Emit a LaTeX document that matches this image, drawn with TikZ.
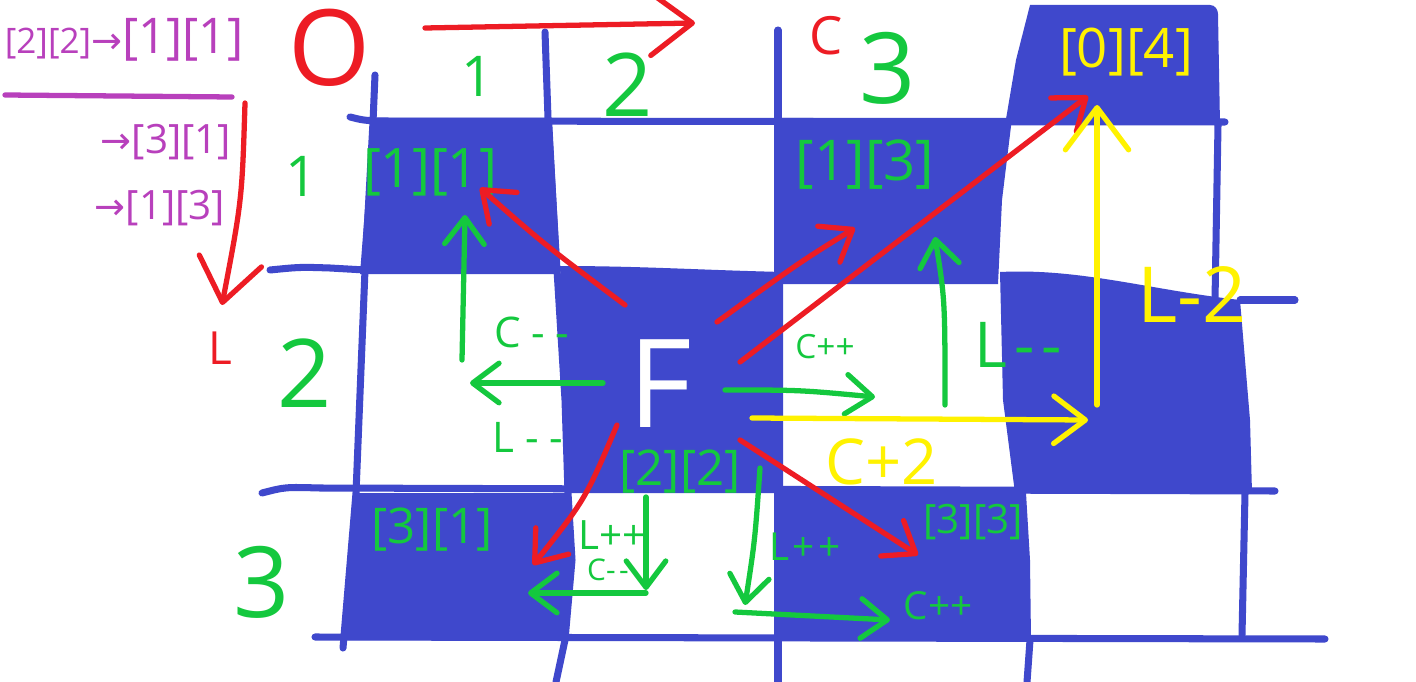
\documentclass[tikz,border=0pt]{standalone}
\usepackage{fontspec}
\setmainfont{Open Sans}
\newfontfamily\arrfont{DejaVu Sans}
\usetikzlibrary{arrows.meta}
\definecolor{bl}{HTML}{3F48CC}
\definecolor{rd}{HTML}{ED1C24}
\definecolor{gr}{HTML}{14C83E}
\definecolor{yl}{HTML}{FFF200}
\definecolor{pu}{HTML}{B840BC}
\newcommand\fsz[1]{\fontsize{#1pt}{#1pt}\selectfont}
\tikzset{
  gridline/.style={draw=bl, line width=4pt, line cap=round, line join=round},
  cellfill/.style={fill=bl, draw=none},
  pen/.style={line width=3pt, line cap=round, line join=round},
  barb/.style={-{Straight Barb[length=#1pt, width=1.5*#1pt, round]}},
  redarrow/.style={pen, draw=rd, barb=16},
  grarrow/.style={pen, draw=gr, barb=15},
  ylarrow/.style={pen, draw=yl, barb=18},
  lbl/.style={inner sep=0pt, anchor=center},
}
\begin{document}
\begin{tikzpicture}[x=0.02cm, y=-0.02cm]
\useasboundingbox (0,0) rectangle (1416,682);
\fill[white] (0,0) rectangle (1416,682);
% ---------- blue cells ----------
\path[cellfill] (372,118) -- (552,118) -- (560,268) -- (560,274) -- (360,274) -- cycle;
\path[cellfill] (778,118) -- (1012,118) -- (1002,200) -- (998,284) -- (778,284) -- cycle;
\path[cellfill] (1030,5) -- (1210,5) to[out=0,in=90] (1218,14) -- (1220,125) -- (1005,125) -- (1016,60) -- cycle;
\path[cellfill] (560,266) .. controls (640,266) and (700,270) .. (783,272) -- (783,493) -- (568,493) -- (566,400) -- cycle;
\path[cellfill] (1000,272) .. controls (1080,268) and (1150,290) .. (1240,300) -- (1250,420) -- (1252,493) -- (1015,493) -- (1003,400) -- cycle;
\path[cellfill] (358,493) -- (570,493) -- (572,560) -- (566,640) -- (342,640) -- cycle;
\path[cellfill] (778,493) -- (1026,493) -- (1030,560) -- (1031,640) -- (778,640) -- cycle;
% ---------- grid lines ----------
\draw[gridline] (350,117) .. controls (362,120) .. (375,121) -- (1225,122);
\draw[gridline] (270,270) .. controls (300,267) .. (330,268) -- (365,270);
\draw[gridline] (1240,300) -- (1295,300);
\draw[gridline] (262,493) .. controls (285,487) .. (320,488) -- (1275,491);
\draw[gridline] (315,637) -- (1325,639);
\draw[gridline] (375,75) -- (373,122) -- (365,270) -- (356,493) -- (343,648);
\draw[gridline] (545,32) -- (548,118) -- (557,270) -- (565,400) -- (568,493) -- (572,560) -- (565,640) -- (556,682);
\draw[gridline] (778,30) -- (778,682);
\draw[gridline] (1030,640) -- (1027,682);
\draw[gridline] (1218,125) -- (1215,300);
\draw[gridline] (1245,493) -- (1242,635);
% ---------- purple notes ----------
\node[lbl, text=pu] (p1) at (124,40) {{\fsz{20}[2][2]}{\arrfont\fsz{21}→}{\fsz{28}[1][1]}};
\coordinate (pl1) at (5,95);
\coordinate (pl2) at (232,97);
\draw[pu, pen] (pl1) -- (pl2);
\node[lbl, text=pu] (p2) at (166,142) {{\arrfont\fsz{21}→}{\fsz{23}[3][1]}};
\node[lbl, text=pu] (p3) at (160,208) {{\arrfont\fsz{21}→}{\fsz{23}[1][3]}};
% ---------- red axes ----------
\node[lbl, text=rd] (o) at (330,48) {\fsz{60}O};
\coordinate (ax1) at (425,28);
\coordinate (ax2) at (695,23);
\draw[redarrow, barb=24] (ax1) -- (ax2);
\node[lbl, text=rd] (cl) at (826,36) {\fsz{30}C};
\coordinate (ay1) at (245,103);
\coordinate (ay2) at (222,305);
\draw[redarrow, barb=24] (ay1) .. controls (242,200) .. (ay2);
\node[lbl, text=rd] (ll) at (220,348) {\fsz{26}L};
% ---------- green headers ----------
\node[lbl, text=gr] (c1) at (478,76) {\fsz{32}1};
\node[lbl, text=gr] (c2) at (628,85) {\fsz{50}2};
\node[lbl, text=gr] (c3) at (888,68) {\fsz{56}3};
\node[lbl, text=gr] (r1) at (302,176) {\fsz{32}1};
\node[lbl, text=gr] (r2) at (305,373) {\fsz{54}2};
\node[lbl, text=gr] (r3) at (262,582) {\fsz{56}3};
% ---------- cell labels ----------
\node[lbl, text=gr] (n11) at (430,172) {\fsz{31}[1][1]};
\node[lbl, text=gr] (n13) at (865,165) {\fsz{32}[1][3]};
\node[lbl, text=yl] (n04) at (1126,52) {\fsz{31}[0][4]};
\node[lbl, text=gr] (n31) at (432,530) {\fsz{28}[3][1]};
\node[lbl, text=gr] (n22) at (680,472) {\fsz{28}[2][2]};
\node[lbl, text=gr] (n33) at (973,522) {\fsz{23}[3][3]};
\node[lbl, text=white] (f) at (660,384) {\fsz{70}F};
% ---------- green moves ----------
\node[lbl, text=gr] (t1) at (532,332) {\fsz{24}C\hspace{6pt}-\hspace{6pt}-};
\node[lbl, text=gr] (t2) at (528,437) {\fsz{24}L\hspace{6pt}-\hspace{6pt}-};
\node[lbl, text=gr] (t3) at (825,347) {\fsz{19}C++};
\node[lbl, text=gr] (t4) at (1018,345) {\fsz{36}L\hspace{4pt}-\hspace{4pt}-};
\node[lbl, text=gr] (t5) at (612,535) {\fsz{23}L++};
\node[lbl, text=gr] (t6) at (608,570) {\fsz{17}C-\hspace{2pt}-};
\node[lbl, text=gr] (t7) at (805,547) {\fsz{22}L\hspace{2pt}+\hspace{2pt}+};
\node[lbl, text=gr] (t8) at (938,606) {\fsz{22}C++};
\coordinate (g1a) at (603,383); \coordinate (g1b) at (470,383);
\draw[grarrow] (g1a) -- (g1b);
\coordinate (g2a) at (462,360); \coordinate (g2b) at (465,215);
\draw[grarrow] (g2a) -- (g2b);
\coordinate (g3a) at (725,390); \coordinate (g3b) at (875,397);
\draw[grarrow] (g3a) .. controls (800,390) .. (g3b);
\coordinate (g4a) at (945,405); \coordinate (g4b) at (935,237);
\draw[grarrow] (g4a) .. controls (945,300) .. (g4b);
\coordinate (g5a) at (646,497); \coordinate (g5b) at (646,590);
\draw[grarrow] (g5a) -- (g5b);
\coordinate (g6a) at (646,593); \coordinate (g6b) at (528,593);
\draw[grarrow] (g6a) -- (g6b);
\coordinate (g7a) at (760,468); \coordinate (g7b) at (745,605);
\draw[grarrow] (g7a) .. controls (755,540) .. (g7b);
\coordinate (g8a) at (735,612); \coordinate (g8b) at (890,620);
\draw[grarrow] (g8a) -- (g8b);
% ---------- red moves ----------
\coordinate (r1a) at (625,305); \coordinate (r1b) at (480,188);
\draw[redarrow] (r1a) .. controls (545,245) .. (r1b);
\coordinate (r2a) at (717,322); \coordinate (r2b) at (855,228);
\draw[redarrow] (r2a) .. controls (800,262) .. (r2b);
\coordinate (r3a) at (740,362); \coordinate (r3b) at (1088,96);
\draw[redarrow] (r3a) -- (r3b);
\coordinate (r4a) at (617,425); \coordinate (r4b) at (533,565);
\draw[redarrow] (r4a) .. controls (585,500) .. (r4b);
\coordinate (r5a) at (740,440); \coordinate (r5b) at (918,555);
\draw[redarrow] (r5a) -- (r5b);
% ---------- yellow jump ----------
\coordinate (y1a) at (752,418); \coordinate (y1b) at (1088,420);
\draw[ylarrow] (y1a) -- (y1b);
\coordinate (y2a) at (1097,405); \coordinate (y2b) at (1097,105);
\draw[ylarrow, barb=24] (y2a) -- (y2b);
\node[lbl, text=yl] (t9) at (882,462) {\fsz{36}C+2};
\node[lbl, text=yl] (t10) at (1192,295) {\fsz{44}L-2};
\end{tikzpicture}
\end{document}
